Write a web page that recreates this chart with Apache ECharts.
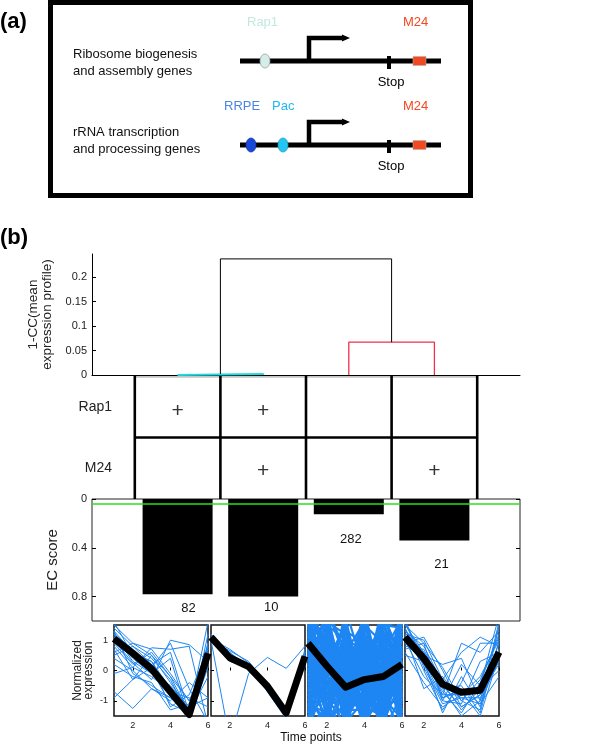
<!DOCTYPE html>
<html><head><meta charset="utf-8">
<script src="https://cdn.jsdelivr.net/npm/echarts@6/dist/echarts.min.js"></script>
<style>html,body{margin:0;padding:0;background:#fff}#c{width:600px;height:745px}</style>
</head><body><div id="c"></div>
<script>
const FONT = 'Liberation Sans, Arial, Helvetica, sans-serif';

// ---------- dendrogram ----------
const leafX = [1, 2, 3, 4];
const linkLeftX = [1, 3, 1.5];
const linkRightX = [2, 4, 3.5];
const linkLeftBase = [0, 0, 0.002];
const linkRightBase = [0, 0, 0.067];
const linkHeight = [0.002, 0.067, 0.237];
const dendroTicks = [0, 0.05, 0.1, 0.15, 0.2];

// ---------- motif table ----------
const motifNames = ['Rap1', 'M24'];
const rap1Present = [1, 1, 0, 0];
const m24Present = [0, 1, 0, 1];

// ---------- EC score ----------
const ecScore = [0.78, 0.80, 0.125, 0.34];
const clusterSize = [82, 10, 282, 21];
const ecThreshold = 0.04;
const ecTicks = [0, 0.4, 0.8];

// ---------- expression profiles ----------
const timePoints = [1, 2, 3, 4, 5, 6];
const timeTicks = [2, 4, 6];
const exprTicks = [-1, 0, 1];
const meanCluster1 = [1.05, 0.57, 0.05, -0.7, -1.45, 0.57];
const meanCluster2 = [1.1, 0.42, 0.13, -0.52, -1.4, 0.47];
const meanCluster3 = [0.9, 0.15, -0.55, -0.3, -0.2, 0.2];
const meanCluster4 = [1.1, 0.4, -0.45, -0.72, -0.65, 0.6];

const genesCluster1 = [
 [1.5, 0.9, 0.5, -0.4, -1.3, 0.6],
 [1.3, 0.6, 0.3, -0.8, -1.6, 0.9],
 [1.1, 0.4, -0.1, -0.5, -1.2, -0.9],
 [0.9, 0.2, 0.6, -0.2, -1.0, 0.4],
 [1.2, 0.7, 0.0, -1.1, -1.4, 1.6],
 [0.7, -0.3, 0.1, 0.9, -0.6, -1.7],
 [0.4, 0.0, -0.6, -0.9, -1.3, 0.2],
 [-0.7, -1.25, -0.6, -1.0, -0.4, -0.9],
 [-0.1, 0.1, 0.75, 0.7, 0.8, -1.8],
 [1.0, 0.25, -0.3, 1.0, 0.85, 0.3],
 [1.6, 0.5, 0.3, -0.6, -1.7, 1.2],
 [0.2, -0.2, -0.4, -1.3, -1.1, 0.5],
 [1.4, 0.8, 0.4, -0.3, -1.5, 0.8],
 [0.8, 0.1, -0.2, -0.7, -0.9, -1.2],
 [-0.9, -0.3, 0.5, -0.2, -1.4, 0.6],
 [1.2, 0.3, -0.1, 0.4, -1.6, 0.1],
 [0.5, 0.8, 0.2, -1.2, -0.8, 0.7],
 [1.0, 0.5, 0.2, 0.6, -1.4, -0.2],
 [1.3, -0.1, -0.5, -0.9, -1.5, 0.9],
 [0.6, 0.9, 0.7, -0.1, -1.0, 0.3]
];
const genesCluster2 = [
 [1.1, 0.5, 0.2, -0.5, -1.4, 0.5],
 [1.0, 0.6, 0.1, -0.6, -1.5, 0.7],
 [1.2, 0.4, 0.2, -0.4, -1.3, 0.4],
 [1.1, 0.3, 0.1, -0.7, -1.6, 0.6],
 [1.0, 0.65, 0.3, -0.5, -1.4, 0.3],
 [1.2, 0.55, 0.15, -0.6, -1.5, 0.55],
 [1.05, 0.7, 0.25, -0.45, -1.35, 0.45],
 [1.0, -2.3, -0.1, 0.43, 0.07, 0.8],
 [1.15, 0.35, 0.05, -0.55, -1.45, 0.6],
 [1.1, 0.45, 0.2, -0.5, -1.6, 0.5]
];
const genesCluster3 = [
 [2.0, -0.5, -1.2, 0.3, -0.8, 1.1],
 [-1.8, 0.6, -0.4, -1.1, 0.9, -0.2],
 [0.4, 1.7, -0.9, 0.1, -1.9, 0.7],
 [1.2, -1.6, 0.8, -0.6, 0.2, -1.3],
 [-0.6, 0.2, 1.4, -1.7, 0.5, 0.9],
 [0.9, -0.9, -1.8, 1.2, -0.3, -0.7],
 [-1.2, 1.1, 0.3, 0.6, -1.4, 1.8],
 [1.6, 0.8, -0.2, -1.4, 1.3, -1.9],
 [0.1, -1.3, 0.6, 1.6, -0.9, 0.3],
 [-0.3, 0.9, -1.5, -0.2, 1.7, -0.5],
 [2.2, 0.3, -0.7, -0.9, -0.1, 1.4],
 [-2.0, -0.2, 1.0, 0.4, -1.6, 0.1],
 [0.7, 1.4, 0.1, -0.4, 0.6, -1.6],
 [1.4, -0.4, -1.0, 0.9, 1.1, 0.6],
 [-0.9, -1.7, 0.4, -1.2, -0.5, 1.2],
 [0.3, 0.5, -0.3, 1.9, -1.2, -0.9],
 [1.9, 1.0, -1.4, -0.7, 0.8, 0.0],
 [-1.5, -0.8, -0.1, 0.2, 1.5, 1.6],
 [0.5, -0.1, 1.7, -0.8, -1.7, -0.3],
 [1.1, 1.9, -0.6, -1.6, 0.0, 0.8],
 [-0.1, -1.1, -2.0, 0.7, 0.4, -1.1],
 [2.4, 0.1, 0.2, -0.1, -0.6, -0.4],
 [-0.7, 1.3, -1.1, 1.0, -1.0, 2.0],
 [0.8, -2.1, -0.5, -0.3, 1.0, 0.4],
 [1.3, 0.4, 0.9, -1.9, -0.2, 1.0],
 [-1.1, 0.0, -0.8, 1.4, 0.3, -1.5],
 [0.6, 1.2, -1.7, -1.0, 1.9, 0.2],
 [1.7, -1.0, 0.5, 0.5, -1.3, -0.1],
 [-0.4, 0.7, 0.0, -1.5, -0.4, 1.5],
 [1.0, -0.6, -0.9, 0.0, 0.7, -2.1],
 [0.0, 1.6, 1.2, -0.5, -1.1, 0.5],
 [1.5, -0.3, -1.3, -1.3, 0.1, 1.3],
 [-1.6, 1.5, -0.2, 0.8, -0.7, -0.6],
 [0.2, -1.4, 1.1, -0.9, 1.2, 0.9],
 [2.1, 0.6, -0.4, 0.3, -2.0, -0.8],
 [-0.5, -0.7, -1.6, -0.6, 0.6, 1.7],
 [1.2, 2.0, 0.4, -1.2, -0.8, 0.1],
 [0.4, -0.2, -0.8, 1.1, -1.5, 1.1],
 [-1.3, 0.4, 0.7, -0.1, 0.2, -1.0],
 [1.8, -1.2, -0.1, -1.8, 1.4, 0.7],
 [0.9, 0.9, -1.9, 0.6, -0.4, -0.3],
 [-0.2, -0.5, 0.2, -0.4, -1.8, 1.9],
 [1.4, 1.1, -0.6, 1.5, 0.9, -1.4],
 [-0.8, -1.9, -0.3, -0.7, 0.0, 0.6],
 [0.6, 0.3, 1.5, -1.1, -0.6, -0.2],
 [2.3, -0.8, -1.1, 0.1, 0.5, 1.2],
 [-1.4, 0.8, 0.1, -1.4, 1.6, -0.8],
 [0.3, 1.8, -0.5, 0.4, -1.2, 0.0],
 [1.0, -1.5, -1.2, 0.8, -0.9, 1.4],
 [-0.6, 0.1, 0.9, -0.8, 0.4, -1.8],
 [1.6, 0.2, -1.5, -0.2, -0.1, 0.8],
 [0.7, -0.4, 0.3, -1.6, 1.1, 1.0],
 [-1.0, 1.4, -0.9, 1.3, -1.4, -0.1],
 [1.3, -0.9, 0.6, -0.3, 0.3, -0.6],
 [0.1, 0.6, -1.4, 0.2, 1.8, 0.4],
 [1.9, -0.1, 0.0, -1.0, -1.3, 1.6],
 [-0.3, -1.6, 1.3, 0.9, -0.2, -1.2],
 [0.8, 1.0, -0.2, -0.5, 0.7, 0.3],
 [1.1, -0.7, -0.7, 1.7, -0.5, -0.4],
 [-1.7, 0.5, -1.0, -0.9, 1.0, 0.9],
 [-2.2, 1.0, -0.6, 0.5, -0.9, -1.6],
 [0.5, -2.0, 1.6, -1.0, 0.8, -0.6],
 [1.1, 0.0, -2.2, 1.0, -1.9, 0.6],
 [-0.2, 2.1, 0.6, -2.1, 1.2, -1.0],
 [1.5, -1.0, 2.0, 0.0, -2.2, 1.9],
 [-1.0, -0.5, -0.9, 2.0, -0.7, -2.2],
 [0.3, 1.3, -1.2, -0.4, 2.2, -0.9],
 [-1.9, -1.2, 0.8, -1.7, -0.8, 2.2],
 [1.8, 0.7, 0.0, 1.2, 0.4, -1.4],
 [-0.8, 0.3, -1.3, 0.1, -1.0, 0.2],
 [0.0, -0.8, 0.5, -0.6, 1.3, -0.3],
 [1.2, 1.5, 1.0, 0.7, -0.3, 1.3],
 [-1.4, -0.6, -0.4, -1.2, -1.5, -0.5],
 [0.9, 0.2, -0.3, 0.3, 0.2, -0.2],
 [1.5, -0.2, 0.3, -0.8, 0.6, 0.5],
 [-0.5, 1.1, -0.5, 0.9, 0.0, -1.3],
 [0.6, -1.1, -1.0, -0.3, -0.5, 1.1],
 [2.0, 0.9, 0.7, -1.3, 0.9, -0.7],
 [-1.1, -1.4, 0.2, 1.1, -1.1, 0.7],
 [0.2, 0.8, -0.7, -0.1, 1.5, 1.4]
];
const genesCluster4 = [
 [1.3, 0.6, -0.5, -1.2, -0.8, 0.9],
 [1.5, 0.9, 0.1, -1.0, -1.3, 1.5],
 [0.9, 0.3, -0.9, -0.6, -1.1, 0.4],
 [1.6, 0.4, -0.7, -1.4, -0.4, 1.2],
 [1.2, 1.0, -0.3, 0.6, 1.1, 0.8],
 [0.6, -0.4, -1.2, -0.8, -0.7, 0.2],
 [1.1, 0.5, 0.2, 0.4, -1.0, 1.6],
 [1.4, 0.2, -1.0, -1.1, 0.3, 0.6],
 [0.8, 0.7, -0.6, -0.5, -1.4, 1.0],
 [1.7, 0.1, -1.1, -0.9, -0.9, 0.3],
 [1.0, -0.2, -0.8, 0.9, 0.6, 1.3],
 [1.3, 0.8, -0.4, -1.3, -0.6, 0.0],
 [0.5, 0.3, -1.4, -0.2, -1.2, 0.7],
 [1.2, -0.6, -0.2, -1.0, -0.3, 1.1],
 [1.5, 0.6, -0.9, -0.7, -1.5, 0.5],
 [0.9, 1.1, 0.0, -1.2, -0.8, 1.4],
 [1.4, 0.0, -1.3, -0.4, 0.9, 0.9],
 [1.1, 0.4, -0.5, -0.9, -1.1, -0.2],
 [0.7, 0.9, -1.0, 0.2, -0.5, 1.8],
 [1.6, 0.2, -0.6, -1.5, -1.0, 0.4],
 [1.0, 0.5, -0.8, -0.8, -0.2, 1.0]
];

// ---------- layout / style ----------
const BLUE = '#1e86f2';
const axisTxt = { color: '#222', fontFamily: FONT };
const panelLefts = [114, 211, 308, 405];
const panelW = 94;

const grids = [
  { left: 92, top: 254, width: 428, height: 121 },
  { left: 92, top: 376, width: 428, height: 123 },
  { left: 92, top: 499, width: 428, height: 122, show: true, borderColor: '#222', borderWidth: 1 }
];
panelLefts.forEach(l => grids.push({ left: l, top: 625, width: panelW, height: 91, show: true, borderColor: '#111', borderWidth: 1.5 }));

const xAxes = [
  { gridIndex: 0, type: 'value', min: 0, max: 5, axisLine: { show: true, lineStyle: { color: '#000', width: 1 } },
    axisTick: { show: false }, axisLabel: { show: false }, splitLine: { show: false } },
  { gridIndex: 1, type: 'value', min: 0, max: 5, show: false },
  { gridIndex: 2, type: 'value', min: 0, max: 5, show: false }
];
const yAxes = [
  { gridIndex: 0, type: 'value', min: 0, max: 0.247,
    axisLine: { show: true, lineStyle: { color: '#000', width: 1 } },
    axisTick: { show: true, inside: true, length: 4, customValues: dendroTicks, lineStyle: { color: '#000' } },
    axisLabel: { customValues: dendroTicks, fontSize: 11, margin: 5, ...axisTxt },
    splitLine: { show: false },
    name: '1-CC(mean\nexpression profile)', nameLocation: 'middle', nameRotate: 90, nameGap: 38,
    nameTextStyle: { fontSize: 13.5, lineHeight: 14, color: '#222', fontFamily: FONT } },
  { gridIndex: 1, type: 'value', min: 0, max: 2,
    axisLine: { show: false }, axisTick: { show: false }, splitLine: { show: false },
    axisLabel: { customValues: [0.5, 1.5], margin: -20, fontSize: 14, ...axisTxt,
      formatter: v => (v > 1 ? motifNames[0] : motifNames[1]) } },
  { gridIndex: 2, type: 'value', min: 0, max: 1, inverse: true,
    axisLine: { show: false },
    axisTick: { show: true, inside: true, length: 4, customValues: ecTicks, lineStyle: { color: '#000' } },
    axisLabel: { customValues: ecTicks, fontSize: 11, margin: 5, ...axisTxt },
    splitLine: { show: false },
    name: 'EC score', nameLocation: 'middle', nameRotate: 90, nameGap: 27,
    nameTextStyle: { fontSize: 15, color: '#222', fontFamily: FONT } },
  { gridIndex: 2, type: 'value', min: 0, max: 1, inverse: true, position: 'right',
    axisLine: { show: false },
    axisTick: { show: true, inside: true, length: 4, customValues: ecTicks, lineStyle: { color: '#000' } },
    axisLabel: { show: false }, splitLine: { show: false } }
];
panelLefts.forEach((l, k) => {
  xAxes.push({ gridIndex: 3 + k, type: 'value', min: 1, max: 6,
    axisLine: { show: false },
    axisTick: { show: true, inside: true, length: 3, customValues: timeTicks, lineStyle: { color: '#000' } },
    axisLabel: { customValues: timeTicks, fontSize: 9, margin: 5, ...axisTxt },
    splitLine: { show: false } });
  yAxes.push({ gridIndex: 3 + k, type: 'value', min: -1.5, max: 1.5,
    axisLine: { show: false },
    axisTick: { show: true, inside: true, length: 3, customValues: exprTicks, lineStyle: { color: '#000' } },
    axisLabel: { show: k === 0, customValues: exprTicks, fontSize: 9, margin: 6, ...axisTxt },
    splitLine: { show: false },
    name: k === 0 ? 'Normalized\nexpression' : '', nameLocation: 'middle', nameRotate: 90, nameGap: 20,
    nameTextStyle: { fontSize: 12, lineHeight: 11, color: '#222', fontFamily: FONT } });
});

const series = [];
const linkColors = ['#20d8e0', '#f0304c', '#000'];
const linkWidths = [2, 1.3, 1];
linkHeight.forEach((h, i) => {
  series.push({ type: 'line', xAxisIndex: 0, yAxisIndex: 0, symbol: 'none', silent: true,
    data: [[linkLeftX[i], linkLeftBase[i]], [linkLeftX[i], h], [linkRightX[i], h], [linkRightX[i], linkRightBase[i]]],
    lineStyle: { color: linkColors[i], width: linkWidths[i] }, z: 3 });
});
const tableLineData = [];
[0.5, 1.5, 2.5, 3.5, 4.5].forEach(x => { tableLineData.push([x, 0], [x, 2], null); });
series.push({ type: 'line', xAxisIndex: 1, yAxisIndex: 1, symbol: 'none', silent: true, connectNulls: false,
  data: tableLineData, lineStyle: { color: '#000', width: 2.6 } });
series.push({ type: 'line', xAxisIndex: 1, yAxisIndex: 1, symbol: 'none', silent: true,
  data: [[0.5, 1], [4.5, 1]], lineStyle: { color: '#000', width: 2.6 } });
series.push({ type: 'line', xAxisIndex: 1, yAxisIndex: 1, symbol: 'none', silent: true,
  data: [[0.5, 1.985], [4.5, 1.985]], lineStyle: { color: '#999', width: 1 }, z: 1 });
const plusData = [];
rap1Present.forEach((p, i) => { if (p) plusData.push([leafX[i], 1.42]); });
m24Present.forEach((p, i) => { if (p) plusData.push([leafX[i], 0.45]); });
series.push({ type: 'scatter', xAxisIndex: 1, yAxisIndex: 1, silent: true, symbolSize: 1,
  itemStyle: { color: 'rgba(0,0,0,0)' }, data: plusData,
  label: { show: true, position: 'inside', formatter: '+', fontSize: 21, color: '#000', fontFamily: FONT } });
const labelDist = [8, 4, 19, 17];
const labelOffX = [11, 8, 2, 7];
series.push({ type: 'bar', xAxisIndex: 2, yAxisIndex: 2, barWidth: 70, silent: true,
  itemStyle: { color: '#000' },
  data: ecScore.map((v, i) => ({ value: [leafX[i], v],
    label: { show: true, position: 'bottom', distance: labelDist[i], offset: [labelOffX[i], 0],
      formatter: String(clusterSize[i]), fontSize: 13, color: '#111', fontFamily: FONT } })),
  markLine: { silent: true, symbol: 'none', label: { show: false },
    lineStyle: { color: '#2ede22', width: 1.5, type: 'solid' }, data: [{ yAxis: ecThreshold }] } });
const geneSets = [genesCluster1, genesCluster2, genesCluster3, genesCluster4];
const means = [meanCluster1, meanCluster2, meanCluster3, meanCluster4];
const geneWidths = [1, 1, 2.2, 1];
geneSets.forEach((set, k) => {
  set.forEach(g => series.push({ type: 'line', xAxisIndex: 3 + k, yAxisIndex: 4 + k, symbol: 'none', silent: true,
    clip: true, data: timePoints.map((t, i) => [t, g[i]]), lineStyle: { color: BLUE, width: geneWidths[k] } }));
  series.push({ type: 'line', xAxisIndex: 3 + k, yAxisIndex: 4 + k, symbol: 'none', silent: true, clip: true,
    data: timePoints.map((t, i) => [t, means[k][i]]), lineStyle: { color: '#000', width: 7, join: 'round' }, z: 5 });
});

// ---------- schematic panel (a) ----------
const T = (text, x, y, size, color, extra) => ({ type: 'text', silent: true,
  style: Object.assign({ text, x, y, fontSize: size, fontFamily: FONT, fill: color, align: 'left', verticalAlign: 'middle' }, extra || {}) });
const L = (x1, y1, x2, y2, w) => ({ type: 'line', silent: true, shape: { x1, y1, x2, y2 }, style: { stroke: '#000', lineWidth: w } });
const gene = (y, motifs) => {
  const els = [L(240, y, 441, y, 5)];
  els.push({ type: 'polyline', silent: true, shape: { points: [[309, y], [309, y - 23], [343, y - 23]] },
    style: { stroke: '#000', lineWidth: 4.5, fill: null } });
  els.push({ type: 'polygon', silent: true, shape: { points: [[342, y - 26.5], [350, y - 23], [342, y - 19.5]] }, style: { fill: '#000' } });
  els.push(L(389, y - 5, 389, y + 8, 4));
  els.push(T('Stop', 391, y + 21, 13, '#000', { align: 'center' }));
  els.push({ type: 'rect', silent: true, shape: { x: 413, y: y - 4.5, width: 13, height: 9 }, style: { fill: '#f24a20', stroke: '#b0b0b0', lineWidth: 0.6 } });
  els.push(T('M24', 403, y - 39, 13, '#f04a22'));
  motifs.forEach(m => {
    els.push({ type: 'ellipse', silent: true, shape: { cx: m.cx, cy: y, rx: 5, ry: 7 }, style: { fill: m.fill, stroke: m.stroke, lineWidth: 0.7 } });
    els.push(T(m.name, m.tx, y - 39, 13, m.color));
  });
  return els;
};
const graphic = [
  T('(a)', 0, 22, 22, '#000', { fontWeight: 'bold' }),
  T('(b)', 0, 238, 22, '#000', { fontWeight: 'bold' }),
  { type: 'rect', silent: true, shape: { x: 50.5, y: 2.5, width: 420, height: 193 }, style: { fill: null, stroke: '#000', lineWidth: 5 } },
  T('Ribosome biogenesis', 73, 54, 13, '#111'),
  T('and assembly genes', 73, 71, 13, '#111'),
  T('rRNA transcription', 73, 132, 13, '#111'),
  T('and processing genes', 73, 149, 13, '#111'),
  ...gene(61, [{ name: 'Rap1', cx: 265, tx: 247, fill: '#d4ede8', stroke: '#8a9a98', color: '#c2e8e0' }]),
  ...gene(145, [{ name: 'RRPE', cx: 251, tx: 224, fill: '#1848d8', stroke: '#1030a0', color: '#4a86e0' },
                { name: 'Pac', cx: 283, tx: 272, fill: '#22c6f0', stroke: '#1a9ac0', color: '#22b8ee' }]),
  T('Time points', 311, 738, 12, '#111', { align: 'center' })
];

const chart = echarts.init(document.getElementById('c'), null, { renderer: 'canvas' });
chart.setOption({
  animation: false,
  backgroundColor: '#fff',
  textStyle: { fontFamily: FONT },
  grid: grids, xAxis: xAxes, yAxis: yAxes, series, graphic
});
</script></body></html>
